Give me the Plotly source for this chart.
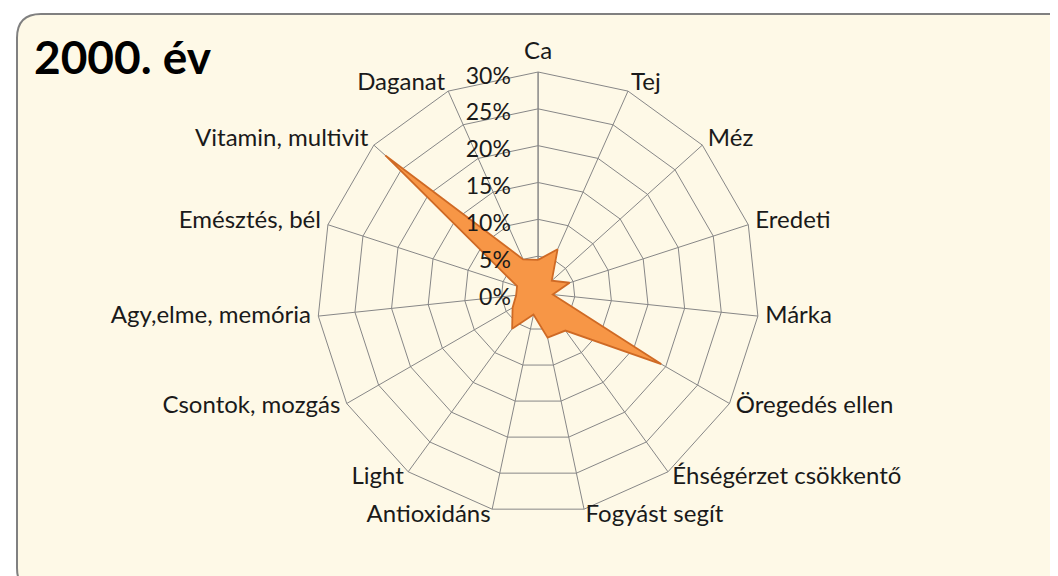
import plotly.graph_objects as go

W, H = 1058, 576

categories = ["Ca", "Tej", "Méz", "Eredeti", "Márka", "Öregedés ellen",
              "Éhségérzet csökkentő", "Fogyást segít", "Antioxidáns", "Light",
              "Csontok, mozgás", "Agy,elme, memória", "Emésztés, bél",
              "Vitamin, multivit", "Daganat"]
values = [0.045, 0.065, 0.025, 0.045, 0.02, 0.193, 0.063, 0.062, 0.03, 0.06,
          0.04, 0.03, 0.03, 0.279, 0.05]
tick_vals = [0, 0.05, 0.10, 0.15, 0.20, 0.25, 0.30]
tick_text = ["0%", "5%", "10%", "15%", "20%", "25%", "30%"]
title_text = "2000. év"

FONT = "Lato"
GRID = "#878787"
TXT = "#1a1a1a"
RMAX = 0.30
LABEL_R = 0.31  # radius at which the category labels sit (just outside the frame)

n = len(categories)
label_pos = []
for i in range(n):
    if i == 0:
        label_pos.append("top center")
    elif i <= (n - 1) // 2:
        label_pos.append("middle right")
    else:
        label_pos.append("middle left")

fig = go.Figure()
fig.add_trace(go.Scatterpolar(
    r=values + values[:1],
    theta=categories + categories[:1],
    mode="lines",
    fill="toself",
    fillcolor="#F79646",
    line=dict(color="#CF6A25", width=1.8),
    hoverinfo="skip",
    subplot="polar",
))
# invisible trace holding the overlay subplot with the radial tick labels
fig.add_trace(go.Scatterpolar(
    r=[0], theta=categories[:1], mode="markers",
    marker=dict(size=1, opacity=0), hoverinfo="skip", subplot="polar2",
))
# category labels, placed through a concentric polar scale reaching LABEL_R
fig.add_trace(go.Scatterpolar(
    r=[LABEL_R] * n, theta=categories, mode="text", text=categories,
    textposition=label_pos, cliponaxis=False,
    textfont=dict(family=FONT, size=24, color=TXT),
    hoverinfo="skip", subplot="polar3",
))

def px(x, y):
    return f"{x / W:.5f},{1 - y / H:.5f}"

x0, y0, x1, y1, rr = 9, 6, 1072, 584, 24
path = (f"M {px(x0 + rr, y0)} L {px(x1 - rr, y0)} Q {px(x1, y0)} {px(x1, y0 + rr)} "
        f"L {px(x1, y1 - rr)} Q {px(x1, y1)} {px(x1 - rr, y1)} "
        f"L {px(x0 + rr, y1)} Q {px(x0, y1)} {px(x0, y1 - rr)} "
        f"L {px(x0, y0 + rr)} Q {px(x0, y0)} {px(x0 + rr, y0)} Z")

cx, cy, R = 530.1, 285.0, 221.0
def domain(rad):
    return dict(x=[(cx - rad) / W, (cx + rad) / W],
                y=[(H - cy - rad) / H, (H - cy + rad) / H])

dom = domain(R)
dom3 = domain(R * LABEL_R / RMAX)
hidden_angular = dict(direction="clockwise", rotation=90, visible=False,
                      categoryarray=categories, categoryorder="array")

fig.update_layout(
    width=W, height=H,
    margin=dict(l=0, r=0, t=0, b=0),
    paper_bgcolor="white",
    showlegend=False,
    font=dict(family=FONT, size=24, color=TXT),
    shapes=[dict(type="path", xref="paper", yref="paper", path=path,
                 fillcolor="#FEF9E7", line=dict(color="#808080", width=2),
                 layer="below")],
    annotations=[dict(text=f"<b>{title_text}</b>", xref="paper", yref="paper",
                      x=24 / W, y=1 - 48 / H, xanchor="left", yanchor="middle",
                      showarrow=False, font=dict(family=FONT, size=46, color="black"))],
    polar=dict(
        domain=dom,
        bgcolor="rgba(0,0,0,0)",
        gridshape="linear",
        angularaxis=dict(direction="clockwise", rotation=90,
                         categoryarray=categories, categoryorder="array",
                         showline=True, linecolor=GRID, linewidth=1,
                         gridcolor=GRID, gridwidth=1, ticks="",
                         showticklabels=False, layer="above traces"),
        radialaxis=dict(range=[0, RMAX], tickvals=tick_vals, ticktext=tick_text,
                        angle=90, showline=True, linecolor=GRID,
                        gridcolor=GRID, gridwidth=1, ticks="",
                        showticklabels=False, layer="below traces"),
    ),
    polar2=dict(
        domain=dom,
        bgcolor="rgba(0,0,0,0)",
        gridshape="linear",
        angularaxis=hidden_angular,
        radialaxis=dict(range=[0, RMAX], tickvals=tick_vals, ticktext=tick_text,
                        angle=90, side="counterclockwise", showline=False,
                        showgrid=False, ticks="outside", ticklen=6,
                        tickcolor="rgba(0,0,0,0)", layer="above traces",
                        tickfont=dict(family=FONT, size=23, color=TXT)),
    ),
    polar3=dict(
        domain=dom3,
        bgcolor="rgba(0,0,0,0)",
        gridshape="linear",
        angularaxis=hidden_angular,
        radialaxis=dict(range=[0, LABEL_R], visible=False),
    ),
)

fig.write_html("out.html")
